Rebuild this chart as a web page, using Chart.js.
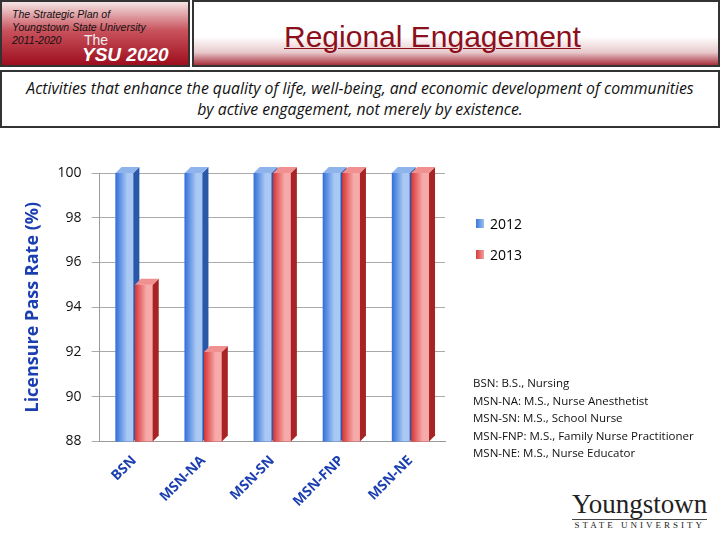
<!DOCTYPE html>
<html><head><meta charset="utf-8">
<script src="https://cdn.jsdelivr.net/npm/chart.js@4.4.0/dist/chart.umd.min.js"></script>
<style>
body{margin:0;width:720px;height:540px;background:#fff;font-family:"Liberation Sans",Arial,sans-serif;position:relative;overflow:hidden}
#hl{position:absolute;left:0;top:0;width:190px;height:67px;background:linear-gradient(180deg,#f4e4e4 0%,#c9535d 45%,#9e0e1e 100%);border:2px solid #333;box-sizing:border-box}
#hl .s{position:absolute;left:10px;top:6px;font-size:10.5px;font-style:italic;line-height:13px;color:#111}
#hl .the{position:absolute;left:82px;top:30px;font-size:14px;color:#eee}
#hl .y{position:absolute;left:80px;top:42px;font-size:19px;font-weight:bold;font-style:italic;color:#fff}
#hr{position:absolute;left:192px;top:0;width:528px;height:67px;background:linear-gradient(180deg,#fff 0%,#fff 55%,#e8c9cc 80%,#a8303c 100%);border:2px solid #333;box-sizing:border-box}
#hr .t{position:absolute;left:90px;top:18px;font-size:30px;color:#8c0f1c;text-decoration:underline;text-decoration-thickness:1px}
#sub{position:absolute;left:0;top:70px;width:720px;height:58px;border:2px solid #333;box-sizing:border-box;font-family:"Open Sans",sans-serif;font-style:italic;font-size:15.8px;text-align:center;line-height:21px;padding-top:6px;color:#111;white-space:nowrap}
#c{position:absolute;left:0;top:153px;width:480px;height:360px}
#leg{position:absolute;left:476px;top:208px;font-family:"Open Sans",sans-serif;font-size:14px}
#leg div{height:31px;display:flex;align-items:center}
#leg span{display:inline-block;width:8px;height:9px;margin-right:6px}
#notes{position:absolute;left:473px;top:374px;font-family:"Open Sans",sans-serif;font-size:11.5px;line-height:17.5px;color:#111}
#logo{position:absolute;left:572px;top:490px;text-align:center;font-family:"Liberation Serif",serif;color:#222}
#logo .a{font-size:27px;line-height:28px}
#logo .b{font-size:9px;letter-spacing:3px;border-top:1px solid #444;margin-top:1px}
</style></head><body>
<div id="hl"><div class="s">The Strategic Plan of<br>Youngstown State University<br>2011-2020</div><div class="the">The</div><div class="y">YSU 2020</div></div>
<div id="hr"><div class="t">Regional Engagement</div></div>
<div id="sub">Activities that enhance the quality of life, well-being, and economic development of communities<br>by active engagement, not merely by existence.</div>
<div id="c"><canvas id="cv"></canvas></div>
<div id="leg"><div><span style="background:linear-gradient(90deg,#3a78d8,#9cc0f0)"></span>2012</div><div><span style="background:linear-gradient(90deg,#d83a3a,#f0a0a0)"></span>2013</div></div>
<div id="notes">BSN: B.S., Nursing<br>MSN-NA: M.S., Nurse Anesthetist<br>MSN-SN: M.S., School Nurse<br>MSN-FNP: M.S., Family Nurse Practitioner<br>MSN-NE: M.S., Nurse Educator</div>
<div id="logo"><div class="a">Youngstown</div><div class="b">STATE UNIVERSITY</div></div>
<script>
const categories = ["BSN", "MSN-NA", "MSN-SN", "MSN-FNP", "MSN-NE"];
const rate2012 = [100, 100, 100, 100, 100];
const rate2013 = [95, 92, 100, 100, 100];
const yTicks = [88, 90, 92, 94, 96, 98, 100];

const depth = 6;
// paints each bar as a small 3D block: gradient front, dark side, light top
const blocks = {
  id: "blocks",
  afterDatasetsDraw(chart) {
    const c = chart.ctx;
    const bottom = chart.chartArea.bottom;
    const cols = [["#3270d8", "#aac8f4", "#2a58a8", "#8fb4ec"], ["#d83434", "#f6aaaa", "#a82424", "#f09090"]];
    chart.data.datasets.forEach((ds, i) => {
      chart.getDatasetMeta(i).data.forEach(b => {
        const r = b.x + b.width / 2, l = b.x - b.width / 2;
        const g = c.createLinearGradient(l, 0, r, 0);
        g.addColorStop(0, cols[i][0]); g.addColorStop(0.65, cols[i][1]); g.addColorStop(1, cols[i][1]);
        c.fillStyle = g; c.fillRect(l, b.y, r - l, bottom - b.y);
        c.fillStyle = cols[i][2];
        c.beginPath(); c.moveTo(r, b.y); c.lineTo(r + depth, b.y - depth); c.lineTo(r + depth, bottom - depth); c.lineTo(r, bottom); c.fill();
        c.fillStyle = cols[i][3];
        c.beginPath(); c.moveTo(l, b.y); c.lineTo(l + depth, b.y - depth); c.lineTo(r + depth, b.y - depth); c.lineTo(r, b.y); c.fill();
      });
    });
  }
};
new Chart(document.getElementById("cv"), {
  type: "bar",
  data: { labels: categories, datasets: [
    { label: "2012", data: rate2012, backgroundColor: "#3b78dc" },
    { label: "2013", data: rate2013, backgroundColor: "#dc3b3b" }
  ]},
  options: {
    responsive: true, maintainAspectRatio: false, animation: false,
    layout: { padding: { left: 18, right: 35, top: 20 } },
    categoryPercentage: 0.56, barPercentage: 0.92,
    plugins: { legend: { display: false }, tooltip: { enabled: false } },
    scales: {
      x: { grid: { display: false }, border: { color: "#999" },
        ticks: { color: "#1b3fb0", font: { family: "Open Sans", size: 14, weight: "bold" }, maxRotation: 45, minRotation: 45 } },
      y: { min: 88, max: 100, afterBuildTicks: s => { s.ticks = yTicks.map(v => ({ value: v })); },
        grid: { color: "#aaa" }, border: { color: "#999" },
        ticks: { color: "#111", font: { family: "Open Sans", size: 14 }, padding: 10 },
        title: { display: true, text: "Licensure Pass Rate (%)", color: "#1b3fb0", font: { family: "Open Sans", size: 18, weight: "bold" } } }
    }
  },
  plugins: [blocks]
});
</script>
</body></html>
